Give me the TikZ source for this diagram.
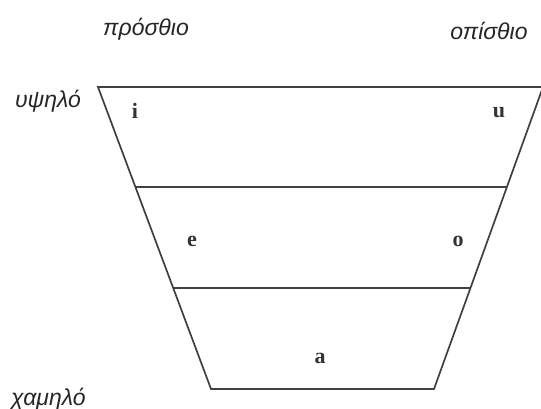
\documentclass[tikz,border=0pt]{standalone}
\usepackage{fontspec}
\setmainfont{Liberation Serif}
\newfontfamily\greeksf{Liberation Sans}
\usetikzlibrary{calc}
\tikzset{
  axislabel/.style={font=\greeksf\itshape\fontsize{23}{26}\selectfont, text=black!85, inner sep=0pt},
  vowel/.style={font=\bfseries\fontsize{22}{26}\selectfont, text=black!80, inner sep=0pt},
  edge/.style={draw=black!75, line width=1.7pt, line join=miter}
}
\begin{document}
\begin{tikzpicture}[x=1pt,y=-1pt]
\useasboundingbox (0,0) rectangle (541,409);
\fill[white] (0,0) rectangle (541,409);
\clip (0,0) rectangle (541,409);
\coordinate (TL) at (98,87);
\coordinate (TR) at (543,87);
\coordinate (BL) at (211,389);
\coordinate (BR) at (434,389);
\coordinate (L1) at ($(TL)!0.331!(BL)$);
\coordinate (R1) at ($(TR)!0.331!(BR)$);
\coordinate (L2) at ($(TL)!0.666!(BL)$);
\coordinate (R2) at ($(TR)!0.666!(BR)$);
\draw[edge] (TL) -- (TR) -- (BR) -- (BL) -- cycle;
\draw[edge] (L1) -- (R1);
\draw[edge] (L2) -- (R2);
\node[axislabel] (front) at (146,29) {πρόσθιο};
\node[axislabel] (back) at (489,31) {οπίσθιο};
\node[axislabel] (high) at (48,101) {υψηλό};
\node[axislabel, anchor=west] (low) at (11,399) {χαμηλό};
\node[vowel] (i) at (135,111) {i};
\node[vowel] (u) at (499,113) {u};
\node[vowel] (e) at (192,241) {e};
\node[vowel] (o) at (458,241) {o};
\node[vowel] (a) at (320,358) {a};
\end{tikzpicture}
\end{document}
